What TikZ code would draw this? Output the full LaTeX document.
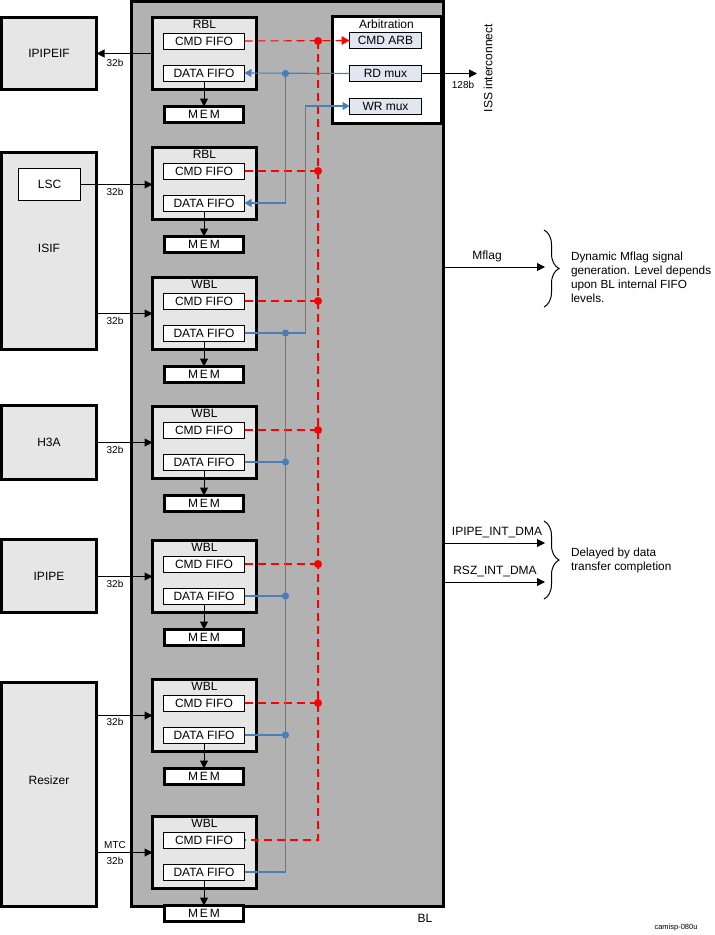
\documentclass[tikz,border=0pt]{standalone}
\usepackage{fontspec}
\setmainfont{Liberation Sans}
\usetikzlibrary{arrows.meta,decorations.pathreplacing,calc}
\definecolor{blgray}{RGB}{178,178,178}
\definecolor{boxgray}{RGB}{230,230,230}
\definecolor{arbfill}{RGB}{226,230,240}
\definecolor{sigblue}{RGB}{74,126,187}
\definecolor{sigred}{RGB}{255,0,0}
\begin{document}
\begin{tikzpicture}[x=1pt,y=-1pt,line width=1pt,
  every node/.style={font=\fontsize{12}{13}\selectfont, inner sep=0pt, outer sep=0pt},
  heavy/.style={draw=black, line width=3pt, fill=boxgray},
  blbox/.style={heavy, minimum width=104pt, minimum height=72pt, anchor=north west},
  fifo/.style={draw=black, fill=white, line width=1pt, minimum width=81pt, minimum height=16pt},
  membox/.style={draw=black, fill=white, line width=3pt, minimum width=79pt, minimum height=16pt},
  arbbox/.style={draw=black, fill=arbfill, line width=1pt, minimum width=72pt, minimum height=16pt},
  lbl/.style={font=\fontsize{10}{12}\selectfont},
  blkarr/.style={draw=black, line width=1pt, -{Triangle[length=8pt,width=8pt]}},
  redarr/.style={draw=sigred, line width=1.1pt, dash pattern=on 8pt off 5pt},
  bluearr/.style={draw=sigblue, line width=1.1pt},
  bluetip/.style={-{Triangle[length=7pt,width=8pt]}},
  bracedec/.style={draw=black, line width=1pt, decorate, decoration={brace, amplitude=15pt}},
  note/.style={anchor=west, align=left, font=\fontsize{11.8}{14}\selectfont}]
\useasboundingbox (0,0) rectangle (715,935);

% main BL box
\node[draw=black, line width=3pt, fill=blgray, minimum width=312pt, minimum height=904.5pt, anchor=north west] (bl) at (131.5,1.5) {};
\node (bllbl) at (425,918) {BL};

% left source boxes
\node[heavy, minimum width=95pt, minimum height=72pt] (ipipeif) at (49,53.5) {IPIPEIF};
\node[heavy, minimum width=95pt, minimum height=197pt] (isif) at (49,251) {};
\node (isiflbl) at (49,248) {ISIF};
\node[draw=black, fill=white, line width=1pt, minimum width=62pt, minimum height=32pt] (lsc) at (49.5,184.5) {LSC};
\node[heavy, minimum width=95pt, minimum height=74pt] (h3a) at (49,442.5) {H3A};
\node[heavy, minimum width=95pt, minimum height=73pt] (ipipe) at (49,576) {IPIPE};
\node[heavy, minimum width=95pt, minimum height=224pt] (resizer) at (49,794.5) {};
\node (reslbl) at (49,780) {Resizer};

% buffer logic blocks
\foreach \n/\t/\T in {1/RBL/16, 2/RBL/146, 3/WBL/276, 4/WBL/405, 5/WBL/539, 6/WBL/678, 7/WBL/815} {
  \node[blbox] (b\n) at (152.5,\T+1.5) {};
  \node (b\n t) at (204.5,\T+8.5) {\t};
  \node[fifo] (c\n) at (204,\T+25) {CMD FIFO};
  \node[fifo] (d\n) at (204,\T+57) {DATA FIFO};
  \node[membox] (m\n) at (204,\T+98.5) {M\,E\,M};
  \draw[blkarr] (d\n.south) -- (m\n.north);
}

% arbitration
\node[draw=black, line width=3pt, fill=white, minimum width=109pt, minimum height=107pt] (arb) at (387,70) {};
\node (arbt) at (386.5,24) {Arbitration};
\node[arbbox] (arbcmd) at (385.5,40.5) {CMD ARB};
\node[arbbox] (rdmux) at (385.5,73.5) {RD mux};
\node[arbbox] (wrmux) at (385.5,106) {WR mux};

% ISS interconnect
\coordinate (iss) at (477,73.5);
\draw[blkarr] (rdmux.east) -- (iss);
\node[lbl] (l128) at (463,85) {128b};
\node[rotate=90] (isslbl) at (488,68) {ISS interconnect};

% source / sink arrows
\draw[blkarr] (b1.west) -- (b1.west -| ipipeif.east);
\node[lbl] (l1) at (115,63) {32b};
\draw[blkarr] (lsc.east) -- (lsc.east -| b2.west);
\node[lbl] (l2) at (115,192) {32b};
\draw[blkarr] (b3.west -| isif.east) -- (b3.west);
\node[lbl] (l3) at (115,321) {32b};
\draw[blkarr] (b4.west -| h3a.east) -- (b4.west);
\node[lbl] (l4) at (115,450) {32b};
\draw[blkarr] (b5.west -| ipipe.east) -- (b5.west);
\node[lbl] (l5) at (115,584) {32b};
\draw[blkarr] (b6.west -| resizer.east) -- (b6.west);
\node[lbl] (l6) at (115,722) {32b};
\draw[blkarr] (b7.west -| resizer.east) -- (b7.west);
\node[lbl] (l7a) at (115,845) {MTC};
\node[lbl] (l7b) at (115,861) {32b};

% red command network
\coordinate (rx) at (318,0);
\draw[redarr] (c1.east) -- (arbcmd.west);
\fill[sigred] (arbcmd.west) -- ++(-8,-4.5) -- ++(0,9) -- cycle;
\draw[redarr] (c1.east -| rx) -- (c7.east -| rx) -- (c7.east);
\foreach \n in {2,...,6} {
  \draw[redarr] (c\n.east) -- (c\n.east -| rx);
}
\foreach \n in {1,...,6} {
  \fill[sigred] (c\n.east -| rx) circle (4pt);
}

% blue data network
\coordinate (bx) at (285.5,0);
\coordinate (wx) at (305.5,0);
\draw[bluearr, bluetip, sigblue] (rdmux.west) -- (d1.east);
\draw[bluearr, bluetip, sigblue] (rdmux.west -| bx) -- (d2.east -| bx) -- (d2.east);
\draw[bluearr, bluetip, sigblue] (d7.east) -- (d7.east -| bx) -- (d3.east -| bx) -- (d3.east -| wx) -- (wrmux.west -| wx) -- (wrmux.west);
\foreach \n in {3,...,6} {
  \draw[bluearr] (d\n.east) -- (d\n.east -| bx);
  \fill[sigblue] (d\n.east -| bx) circle (3.6pt);
}
\fill[sigblue] (rdmux.west -| bx) circle (3.6pt);

% outputs on the right
\coordinate (mf) at (545,267);
\coordinate (ipd) at (545,543);
\coordinate (rsd) at (545,582);
\draw[blkarr] (bl.east |- mf) -- (mf);
\draw[blkarr] (bl.east |- ipd) -- (ipd);
\draw[blkarr] (bl.east |- rsd) -- (rsd);
\node (mflbl) at (487,256) {Mflag};
\node (ipdlbl) at (497,533) {IPIPE\_INT\_DMA};
\node (rsdlbl) at (495,571) {RSZ\_INT\_DMA};

\coordinate (br1a) at (544,230);
\coordinate (br1b) at (544,307);
\draw[bracedec] (br1a) -- (br1b);
\node[note] (n1) at (571,277) {Dynamic Mflag signal\\generation. Level depends\\upon BL internal FIFO\\levels.};
\coordinate (br2a) at (544,521);
\coordinate (br2b) at (544,599);
\draw[bracedec] (br2a) -- (br2b);
\node[note] (n2) at (571,560) {Delayed by data\\transfer completion};

\node[font=\fontsize{7.5}{9}\selectfont] (cam) at (676,928) {camisp-080u};
\end{tikzpicture}
\end{document}
